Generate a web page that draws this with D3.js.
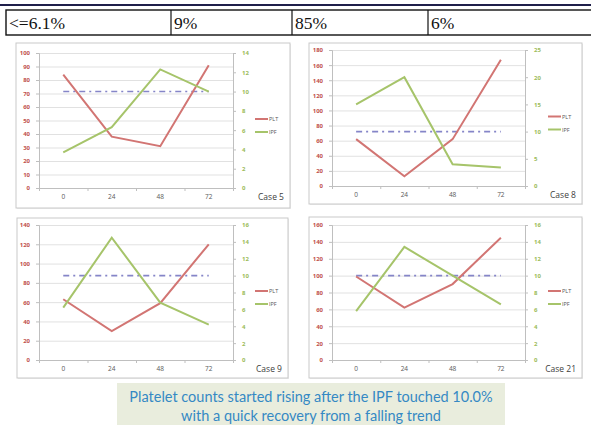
<!DOCTYPE html>
<html>
<head>
<meta charset="utf-8">
<script src="https://cdn.jsdelivr.net/npm/d3@7"></script>
<style>
  body { margin: 0; background: #fff; }
  svg { display: block; }
  .cell { font-family: "Liberation Serif", "Times New Roman", serif; }
</style>
</head>
<body>
<div id="chart"></div>
<script>
// table row above the charts
const tableCells = ["<=6.1%", "9%", "85%", "6%"];

// the four cases
const hours = ["0", "24", "48", "72"];
const caseNames = ["Case 5", "Case 8", "Case 9", "Case 21"];
const pltCase5 = [84, 38, 31, 91];
const ipfCase5 = [3.7, 6.3, 12.3, 10];
const pltCase8 = [62, 13, 62, 167];
const ipfCase8 = [15, 20, 4, 3.4];
const pltCase9 = [63, 30, 59, 120];
const ipfCase9 = [6.2, 14.5, 6.8, 4.2];
const pltCase21 = [99, 62, 90, 145];
const ipfCase21 = [5.8, 13.4, 10, 6.6];
const pltMax = [100, 180, 140, 160];
const pltStep = [10, 20, 20, 20];
const ipfMax = [14, 25, 16, 16];
const ipfStep = [2, 5, 2, 2];
const ipfThreshold = 10;
const seriesNames = ["PLT", "IPF"];

const captionLines = [
  "Platelet counts started rising after the IPF touched 10.0%",
  "with a quick recovery from a falling trend"
];

const W = 591, H = 425;
const svg = d3.select("#chart").append("svg")
    .attr("width", W).attr("height", H);

const red = "#c0504d", redLine = "#d27573", green = "#9bbb59", greenLine = "#a6c46a";

// ---- table ----
svg.append("rect").attr("x", 0).attr("y", 4).attr("width", W).attr("height", 2).attr("fill", "#1f1f4a");
const colX = [6, 171, 292, 428, 592];
svg.append("rect").attr("x", 6).attr("y", 10).attr("width", 590).attr("height", 25)
    .attr("fill", "none").attr("stroke", "#111").attr("stroke-width", 1.4);
colX.slice(1, 4).forEach(x => {
  svg.append("line").attr("x1", x).attr("x2", x).attr("y1", 10).attr("y2", 35)
      .attr("stroke", "#111").attr("stroke-width", 1.2);
});
tableCells.forEach((t, i) => {
  svg.append("text").attr("class", "cell").attr("x", colX[i] + 3).attr("y", 29)
      .attr("font-size", 17.5).attr("fill", "#111").text(t);
});

// ---- panels ----
const panels = [
  {box: [16, 43, 290, 208], plot: [39, 53, 233, 188]},
  {box: [309, 43, 582, 204], plot: [332, 50, 525, 186]},
  {box: [17, 218, 288, 378], plot: [39, 225, 233, 360]},
  {box: [309, 217, 582, 378], plot: [332, 225, 525, 360]}
];
const pltData = [pltCase5, pltCase8, pltCase9, pltCase21];
const ipfData = [ipfCase5, ipfCase8, ipfCase9, ipfCase21];

panels.forEach((p, i) => {
  const [bx0, by0, bx1, by1] = p.box;
  const [left, top, right, bottom] = p.plot;
  const g = svg.append("g");

  // frame with a soft shadow
  g.append("rect").attr("x", bx0 + 1).attr("y", by0 + 1).attr("width", bx1 - bx0).attr("height", by1 - by0)
      .attr("fill", "#ececec");
  g.append("rect").attr("x", bx0).attr("y", by0).attr("width", bx1 - bx0).attr("height", by1 - by0)
      .attr("fill", "#fff").attr("stroke", "#c9c9c9").attr("stroke-width", 1);

  const x = d3.scaleBand().domain(hours).range([left, right]);
  const yL = d3.scaleLinear().domain([0, pltMax[i]]).range([bottom, top]);
  const yR = d3.scaleLinear().domain([0, ipfMax[i]]).range([bottom, top]);
  const leftTicks = d3.range(0, pltMax[i] + 1, pltStep[i]);
  const rightTicks = d3.range(0, ipfMax[i] + 0.01, ipfStep[i]);

  // grid
  g.append("g").attr("transform", `translate(${left},0)`)
      .call(d3.axisLeft(yL).tickValues(leftTicks).tickSize(-(right - left)).tickFormat(""))
      .call(a => a.select(".domain").remove())
      .call(a => a.selectAll("line").attr("stroke", "#d9d9d9").attr("stroke-width", 0.8));

  // left axis
  g.append("g").attr("transform", `translate(${left},0)`)
      .call(d3.axisLeft(yL).tickValues(leftTicks).tickSize(3).tickPadding(6))
      .call(a => a.select(".domain").attr("stroke", "#bfbfbf"))
      .call(a => a.selectAll("line").attr("stroke", "#bfbfbf"))
      .call(a => a.selectAll("text").attr("fill", red).attr("font-size", 6)
          .attr("font-weight", "bold").attr("font-family", "Open Sans, sans-serif"));

  // right axis
  g.append("g").attr("transform", `translate(${right},0)`)
      .call(d3.axisRight(yR).tickValues(rightTicks).tickSize(3).tickPadding(6))
      .call(a => a.select(".domain").attr("stroke", "#bfbfbf"))
      .call(a => a.selectAll("line").attr("stroke", "#bfbfbf"))
      .call(a => a.selectAll("text").attr("fill", green).attr("font-size", 6)
          .attr("font-weight", "bold").attr("font-family", "Open Sans, sans-serif"));

  // bottom axis: tick marks at band edges, labels at band centres
  const edges = d3.scaleLinear().domain([0, hours.length]).range([left, right]);
  g.append("g").attr("transform", `translate(0,${bottom})`)
      .call(d3.axisBottom(edges).tickValues(d3.range(0, hours.length + 1)).tickSize(3).tickFormat(""))
      .call(a => a.select(".domain").attr("stroke", "#bfbfbf"))
      .call(a => a.selectAll("line").attr("stroke", "#bfbfbf"));
  g.append("g").attr("transform", `translate(0,${bottom})`)
      .call(d3.axisBottom(x).tickSize(0).tickPadding(6))
      .call(a => a.select(".domain").remove())
      .call(a => a.selectAll("text").attr("fill", "#595959").attr("font-size", 6.5)
          .attr("font-family", "Open Sans, sans-serif"));

  const cx = d => x(d) + x.bandwidth() / 2;

  // IPF 10% threshold
  g.append("line")
      .attr("x1", cx(hours[0])).attr("x2", cx(hours[hours.length - 1]))
      .attr("y1", yR(ipfThreshold)).attr("y2", yR(ipfThreshold))
      .attr("stroke", "#8585c8").attr("stroke-width", 1.6)
      .attr("stroke-dasharray", "6,4,2,4");

  const line = scale => d3.line().x((d, k) => cx(hours[k])).y(d => scale(d));
  g.append("path").datum(pltData[i]).attr("fill", "none").attr("stroke", redLine)
      .attr("stroke-width", 2).attr("d", line(yL));
  g.append("path").datum(ipfData[i]).attr("fill", "none").attr("stroke", greenLine)
      .attr("stroke-width", 2).attr("d", line(yR));

  // legend
  const mid = (top + bottom) / 2;
  const lx = right + 22 + (i % 2);
  [redLine, greenLine].forEach((c, k) => {
    const ly = mid - 1.5 + k * 13;
    g.append("line").attr("x1", lx).attr("x2", lx + 13).attr("y1", ly).attr("y2", ly)
        .attr("stroke", c).attr("stroke-width", 2);
    g.append("text").attr("x", lx + 14).attr("y", ly + 2)
        .attr("font-size", 5.5).attr("fill", "#595959")
        .attr("font-family", "Open Sans, sans-serif").text(seriesNames[k]);
  });

  g.append("text").attr("x", bx1 - 6).attr("y", bottom + 12)
      .attr("text-anchor", "end").attr("font-size", 8.5).attr("fill", "#404040")
      .attr("font-family", "Open Sans, sans-serif").text(caseNames[i]);
});

// ---- caption ----
svg.append("rect").attr("x", 117).attr("y", 383).attr("width", 388).attr("height", 45)
    .attr("fill", "#e9eddd");
captionLines.forEach((t, i) => {
  svg.append("text").attr("x", 311).attr("y", 402 + i * 19)
      .attr("text-anchor", "middle").attr("font-size", 14.5).attr("fill", "#3589c4")
      .attr("font-family", "Lato, sans-serif").text(t);
});
</script>
</body>
</html>
